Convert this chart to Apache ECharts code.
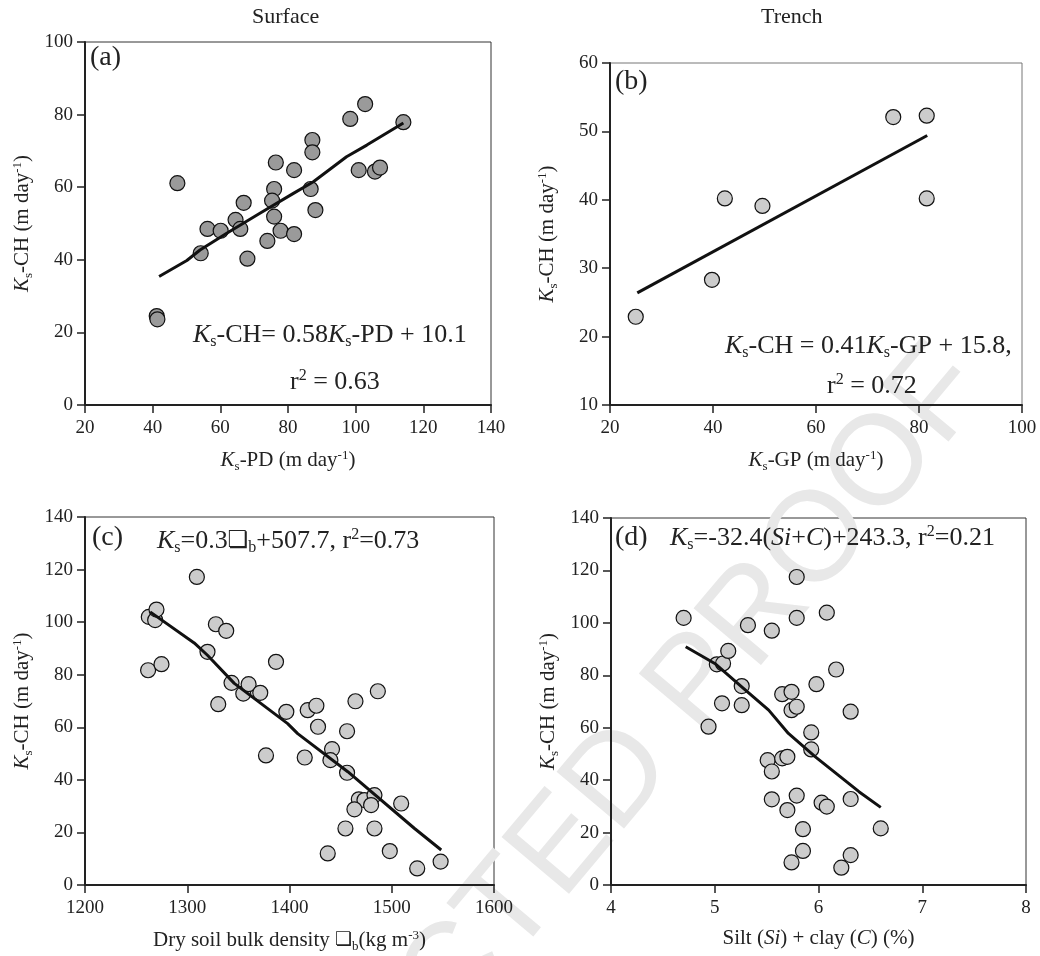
<!DOCTYPE html>
<html>
<head>
<meta charset="utf-8">
<script src="https://cdn.jsdelivr.net/npm/echarts@6/dist/echarts.min.js"></script>
<style>
  html, body { margin: 0; padding: 0; background: #fff; }
  #main { width: 1040px; height: 956px; }
</style>
</head>
<body>
<div id="main"></div>
<script>
// (a) Surface: Ks-PD vs Ks-CH
var aPoints = [[41.2,24.5],[41.4,23.6],[47.3,61.1],[54.2,41.8],[56.2,48.5],[60.1,48.0],[64.5,51.0],
  [65.9,48.5],[66.9,55.7],[68.0,40.3],[73.9,45.2],[76.4,66.8],[75.9,59.5],[75.3,56.3],[75.9,51.9],
  [77.8,48.0],[81.8,64.7],[81.8,47.1],[87.2,73.0],[87.2,69.6],[86.7,59.5],[88.1,53.7],[98.4,78.8],
  [102.8,82.9],[100.9,64.7],[105.7,64.3],[107.2,65.4],[114.1,77.9]];
var aFit = [[41.9,35.4],[50.1,39.8],[54.0,42.7],[61.9,47.3],[71.7,52.8],[81.6,58.3],[87.5,61.5],
  [97.3,68.4],[103.3,71.6],[114.1,77.7]];
var aXTicks = [20, 40, 60, 80, 100, 120, 140];
var aYTicks = [0, 20, 40, 60, 80, 100];

// (b) Trench: Ks-GP vs Ks-CH
var bPoints = [[25.0,22.9],[39.8,28.3],[42.3,40.2],[49.6,39.1],[75.0,52.1],[81.5,52.3],[81.5,40.2]];
var bFit = [[25.3,26.4],[81.6,49.4]];
var bXTicks = [20, 40, 60, 80, 100];
var bYTicks = [10, 20, 30, 40, 50, 60];

// (c) Surface: bulk density vs Ks-CH
var cPoints = [[1261.7,81.7],[1262.4,102.0],[1268.6,100.8],[1269.9,104.8],[1274.8,84.0],[1309.4,117.2],
  [1319.8,88.7],[1328.0,99.2],[1330.3,68.8],[1338.1,96.7],[1343.3,76.9],[1354.8,72.8],[1360.0,76.4],
  [1371.4,73.1],[1377.0,49.3],[1386.8,84.9],[1396.9,65.9],[1417.8,66.5],[1426.3,68.2],[1427.9,60.2],
  [1414.9,48.5],[1441.6,51.7],[1440.0,47.5],[1437.4,12.0],[1456.3,58.5],[1456.3,42.7],[1464.5,69.9],
  [1454.7,21.5],[1467.8,32.6],[1473.3,32.3],[1483.1,34.2],[1479.8,30.4],[1463.5,28.8],[1483.1,21.5],
  [1486.4,73.7],[1509.2,31.0],[1498.1,12.9],[1524.9,6.3],[1547.8,8.9]];
var cFit = [[1263.7,103.9],[1306.8,92.1],[1319.8,87.4],[1346.0,76.7],[1398.2,61.4],[1408.0,57.6],
  [1457.0,43.1],[1522.3,21.5],[1548.4,13.3]];
var cXTicks = [1200, 1300, 1400, 1500, 1600];
var cYTicks = [0, 20, 40, 60, 80, 100, 120, 140];

// (d) Trench: silt + clay vs Ks-CH
var dPoints = [[4.70,101.9],[4.94,60.4],[5.02,84.2],[5.08,84.5],[5.13,89.3],[5.07,69.3],[5.26,75.9],
  [5.26,68.6],[5.32,99.1],[5.55,97.0],[5.51,47.6],[5.55,43.3],[5.55,32.7],[5.65,72.8],[5.74,73.7],
  [5.74,66.7],[5.79,68.0],[5.65,48.3],[5.70,48.9],[5.79,117.5],[5.79,101.9],[5.79,34.1],[5.70,28.6],
  [5.85,21.3],[5.85,13.0],[5.74,8.6],[5.93,58.2],[5.93,51.7],[5.98,76.6],[6.03,31.4],[6.08,29.9],
  [6.08,103.9],[6.17,82.2],[6.22,6.6],[6.31,66.1],[6.31,32.8],[6.31,11.4],[6.60,21.6]];
var dFit = [[4.72,90.9],[5.00,84.5],[5.26,75.6],[5.52,66.7],[5.71,57.8],[5.97,48.9],[6.23,40.7],
  [6.39,35.6],[6.60,29.6]];
var dXTicks = [4, 5, 6, 7, 8];
var dYTicks = [0, 20, 40, 60, 80, 100, 120, 140];

var FONT = 'Liberation Serif';

function richFor (size) {
  return {
    i: { fontFamily: FONT, fontSize: size, fontStyle: 'italic', color: '#222' },
    n: { fontFamily: FONT, fontSize: size, color: '#222' },
    s: { fontFamily: FONT, fontSize: Math.round(size * 0.6), color: '#222', padding: [Math.round(size * 0.55), 0, 0, 0] },
    p: { fontFamily: FONT, fontSize: Math.round(size * 0.6), color: '#222', padding: [0, 0, Math.round(size * 0.45), 0] },
    box: { fontFamily: 'DejaVu Sans', fontSize: Math.round(size * 0.9), color: '#222' }
  };
}

var ksName = '{i|K}{s|s}{n|-CH (m day}{p|-1}{n|)}';

function xAxisOf (idx, ticks, name) {
  return {
    gridIndex: idx, type: 'value',
    min: ticks[0], max: ticks[ticks.length - 1], interval: ticks[1] - ticks[0],
    name: name, nameLocation: 'middle', nameGap: 43,
    nameTextStyle: { rich: richFor(21) },
    axisLine: { show: true, onZero: false, lineStyle: { color: '#222', width: 2 } },
    axisTick: { show: true, inside: false, length: 8, lineStyle: { color: '#222', width: 1.5 } },
    axisLabel: { fontFamily: FONT, fontSize: 19, color: '#222', margin: 14,
      formatter: function (v) { return String(v); } },
    splitLine: { show: false }
  };
}

function yAxisOf (idx, ticks) {
  return {
    gridIndex: idx, type: 'value',
    min: ticks[0], max: ticks[ticks.length - 1], interval: ticks[1] - ticks[0],
    name: ksName, nameLocation: 'middle', nameGap: 50, nameRotate: 90,
    nameTextStyle: { rich: richFor(21) },
    axisLine: { show: true, onZero: false, lineStyle: { color: '#222', width: 2 } },
    axisTick: { show: true, inside: false, length: 8, lineStyle: { color: '#222', width: 1.5 } },
    axisLabel: { fontFamily: FONT, fontSize: 19, color: '#222', margin: 12,
      formatter: function (v) { return String(v); } },
    splitLine: { show: false }
  };
}

function dots (idx, data, fill) {
  return {
    type: 'scatter', xAxisIndex: idx, yAxisIndex: idx, data: data,
    symbol: 'circle', symbolSize: 15, z: 3,
    itemStyle: { color: fill, borderColor: '#111', borderWidth: 1.2, opacity: 1 }
  };
}

function fit (idx, data) {
  return {
    type: 'line', xAxisIndex: idx, yAxisIndex: idx, data: data,
    showSymbol: false, symbol: 'none', smooth: false, z: 4,
    lineStyle: { color: '#111', width: 3 }
  };
}

function label (x, y, text, size) {
  return {
    type: 'text', left: x, top: y, z: 10,
    style: { text: text, rich: richFor(size), fill: '#222', font: size + 'px "' + FONT + '"' }
  };
}

var chart = echarts.init(document.getElementById('main'));
chart.setOption({
  backgroundColor: '#fff',
  animation: false,
  grid: [
    { left: 85, top: 42, width: 406, height: 363, show: true, borderColor: '#333', borderWidth: 1 },
    { left: 610, top: 63, width: 412, height: 342, show: true, borderColor: '#777', borderWidth: 1 },
    { left: 85, top: 517, width: 409, height: 368, show: true, borderColor: '#333', borderWidth: 1 },
    { left: 611, top: 518, width: 415, height: 367, show: true, borderColor: '#333', borderWidth: 1 }
  ],
  xAxis: [
    xAxisOf(0, aXTicks, '{i|K}{s|s}{n|-PD (m day}{p|-1}{n|)}'),
    xAxisOf(1, bXTicks, '{i|K}{s|s}{n|-GP (m day}{p|-1}{n|)}'),
    xAxisOf(2, cXTicks, '{n|Dry soil bulk density }{box|❏}{s|b}{n|(kg m}{p|-3}{n|)}'),
    xAxisOf(3, dXTicks, '{n|Silt (}{i|Si}{n|) + clay (}{i|C}{n|) (%)}')
  ],
  yAxis: [yAxisOf(0, aYTicks), yAxisOf(1, bYTicks), yAxisOf(2, cYTicks), yAxisOf(3, dYTicks)],
  series: [
    dots(0, aPoints, '#9a9a9a'), fit(0, aFit),
    dots(1, bPoints, '#cccccc'), fit(1, bFit),
    dots(2, cPoints, '#cccccc'), fit(2, cFit),
    dots(3, dPoints, '#cccccc'), fit(3, dFit)
  ],
  graphic: [
    {
      type: 'text', x: 965, y: 367, rotation: 50 * Math.PI / 180, z: 0, silent: true,
      style: { text: 'UNCORRECTED PROOF', fill: '#e8e8e8', font: '128px "Liberation Sans"',
        textAlign: 'right', textVerticalAlign: 'middle' }
    },
    { type: 'text', left: 252, top: 6, z: 10, style: { text: 'Surface', fill: '#222', font: '22px "' + FONT + '"' } },
    { type: 'text', left: 761, top: 6, z: 10, style: { text: 'Trench', fill: '#222', font: '22px "' + FONT + '"' } },
    label(90, 44, '{n|(a)}', 28),
    label(193, 322, '{i|K}{s|s}{n|-CH= 0.58}{i|K}{s|s}{n|-PD + 10.1}', 26),
    label(290, 368, '{n|r}{p|2}{n| = 0.63}', 26),
    label(615, 68, '{n|(b)}', 28),
    label(725, 333, '{i|K}{s|s}{n|-CH = 0.41}{i|K}{s|s}{n|-GP + 15.8,}', 26),
    label(827, 372, '{n|r}{p|2}{n| = 0.72}', 26),
    label(92, 524, '{n|(c)}', 28),
    label(157, 527, '{i|K}{s|s}{n|=0.3}{box|❏}{s|b}{n|+507.7, r}{p|2}{n|=0.73}', 26),
    label(615, 524, '{n|(d)}', 28),
    label(670, 524, '{i|K}{s|s}{n|=-32.4(}{i|Si}{n|+}{i|C}{n|)+243.3, r}{p|2}{n|=0.21}', 26)
  ]
});
</script>
</body>
</html>
